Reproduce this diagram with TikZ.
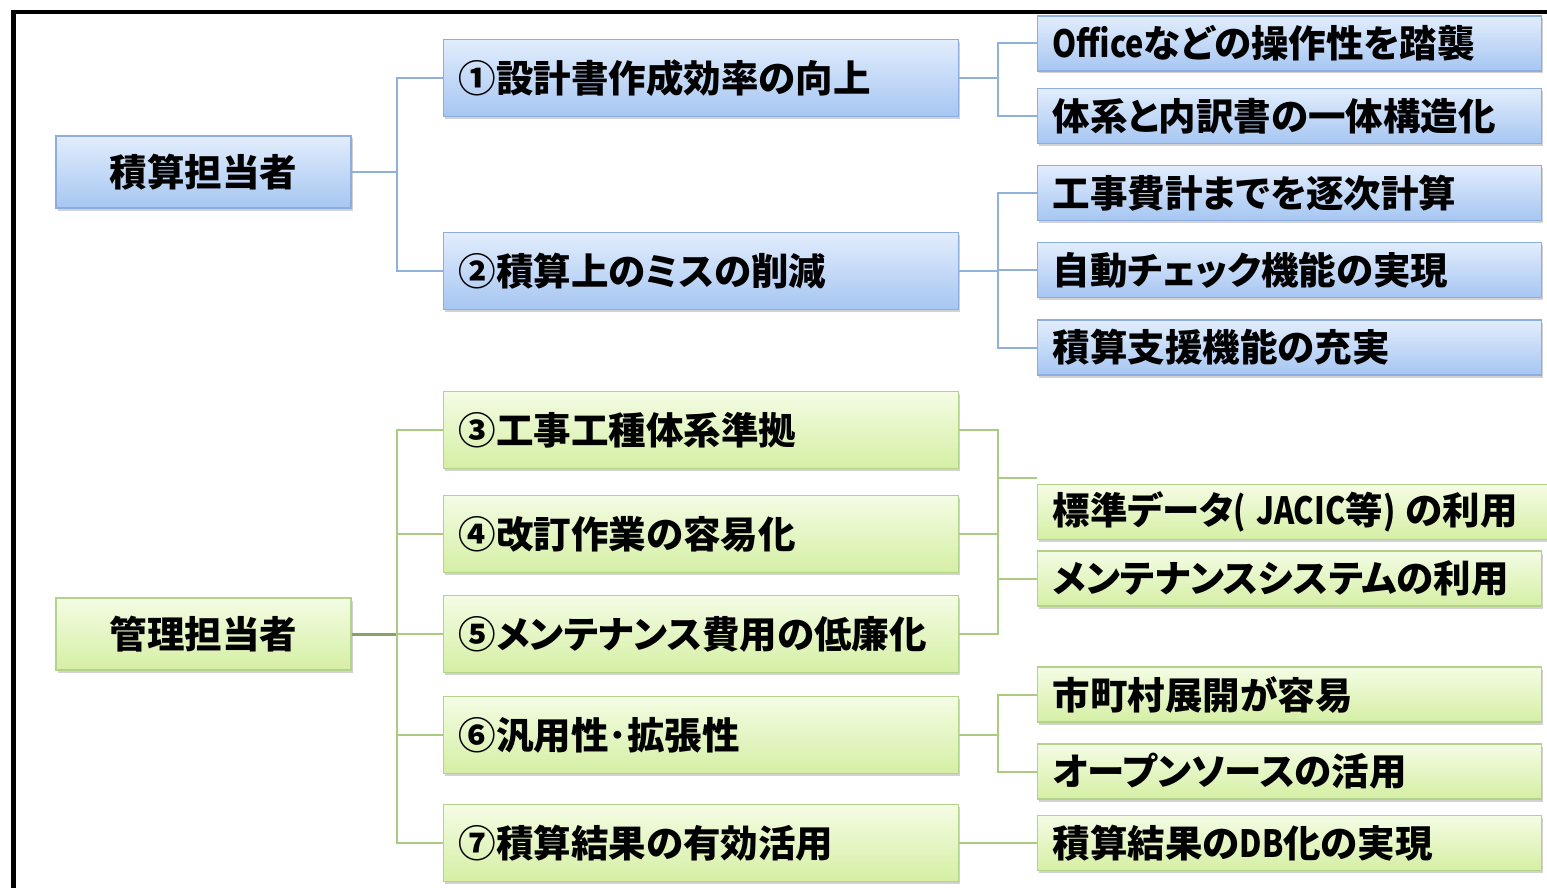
\documentclass[tikz,border=0pt]{standalone}
\usepackage{fontspec}
\usepackage{graphicx}
\setmainfont{Noto Sans CJK JP}[RawFeature=+palt]
\usetikzlibrary{shadows}
\newcommand{\narrowlat}[1]{\scalebox{0.82}[1]{#1}}
\definecolor{btop}{HTML}{E2EDFC}
\definecolor{bbot}{HTML}{A6C6F2}
\definecolor{bdraw}{HTML}{8CADDD}
\definecolor{gtop}{HTML}{F4FCE4}
\definecolor{gbot}{HTML}{D5EFA4}
\definecolor{gdraw}{HTML}{B4D38A}
\definecolor{bline}{HTML}{8FB1DA}
\definecolor{gline}{HTML}{ABCB82}
\tikzset{
  box/.style={rectangle, line width=1.2pt, font=\fontsize{37.5}{40}\selectfont\bfseries,
    drop shadow={shadow xshift=1.5pt, shadow yshift=-2.5pt, opacity=0.35}},
  bluebox/.style={box, draw=bdraw, top color=btop, bottom color=bbot},
  greenbox/.style={box, draw=gdraw, top color=gtop, bottom color=gbot},
  rootbox/.style={minimum width=295pt, minimum height=72pt, inner sep=0pt},
  midbox/.style={anchor=west, inner xsep=15pt, inner ysep=0pt, text width=485pt, align=left, minimum height=77pt},
  leafbox/.style={anchor=west, inner xsep=15pt, inner ysep=0pt, text width=474pt, align=left, minimum height=55pt},
  bconn/.style={draw=bline, line width=2pt},
  gconn/.style={draw=gline, line width=2pt},
}
\begin{document}
\begin{tikzpicture}[x=1pt, y=-1pt]
\useasboundingbox (0,0) rectangle (1547,888);
\fill[white] (0,0) rectangle (1547,888);
% frame
\draw[line width=4.5pt] (13.5,888) -- (13.5,12) -- (1547,12);

\coordinate (v1) at (397,0);
\coordinate (v2) at (998,0);

% roots
\node[bluebox, rootbox] (r1) at (203.5,172) {積算担当者};
\node[greenbox, rootbox] (r2) at (203.5,634) {管理担当者};

% level 2
\node[bluebox, midbox] (a1) at (443,78) {①設計書作成効率の向上};
\node[bluebox, midbox] (a2) at (443,271) {②積算上のミスの削減};
\node[greenbox, midbox] (a3) at (443,430) {③工事工種体系準拠};
\node[greenbox, midbox] (a4) at (443,534) {④改訂作業の容易化};
\node[greenbox, midbox] (a5) at (443,634) {⑤メンテナンス費用の低廉化};
\node[greenbox, midbox] (a6) at (443,735) {⑥汎用性･拡張性};
\node[greenbox, midbox] (a7) at (443,843) {⑦積算結果の有効活用};

% level 3
\node[bluebox, leafbox] (s1) at (1037,43.5) {\narrowlat{Office}などの操作性を踏襲};
\node[bluebox, leafbox] (s2) at (1037,116) {体系と内訳書の一体構造化};
\node[bluebox, leafbox] (s3) at (1037,193) {工事費計までを逐次計算};
\node[bluebox, leafbox] (s4) at (1037,270) {自動チェック機能の実現};
\node[bluebox, leafbox] (s5) at (1037,347.5) {積算支援機能の充実};
\node[greenbox, leafbox, text width=481pt] (s6) at (1037,512) {\mbox{標準データ\narrowlat{(~JACIC}等\narrowlat{)~}の利用}};
\node[greenbox, leafbox] (s7) at (1037,578.5) {メンテナンスシステムの利用};
\node[greenbox, leafbox] (s8) at (1037,694.5) {市町村展開が容易};
\node[greenbox, leafbox] (s9) at (1037,771.5) {オープンソースの活用};
\node[greenbox, leafbox] (s10) at (1037,843) {積算結果の\narrowlat{DB}化の実現};

% connectors, blue
\path[bconn] (r1.east) -- (r1.east -| v1);
\path[bconn] (a1.west) -- (a1.west -| v1) -- (a2.west -| v1) -- (a2.west);
\path[bconn] (a1.east) -- (a1.east -| v2);
\path[bconn] (s1.west) -- (s1.west -| v2) -- (s2.west -| v2) -- (s2.west);
\path[bconn] (a2.east) -- (a2.east -| v2);
\path[bconn] (s3.west) -- (s3.west -| v2) -- (s5.west -| v2) -- (s5.west);
\path[bconn] (s4.west) -- (s4.west -| v2);
% connectors, green
\path[gconn, line width=3pt, draw=gline!80!black] (r2.east) -- (r2.east -| v1);
\path[gconn] (a3.west) -- (a3.west -| v1) -- (a7.west -| v1) -- (a7.west);
\path[gconn] (a4.west) -- (a4.west -| v1);
\path[gconn] (a5.west) -- (a5.west -| v1);
\path[gconn] (a6.west) -- (a6.west -| v1);
\path[gconn] (a3.east) -- (a3.east -| v2) -- (a5.east -| v2) -- (a5.east);
\path[gconn] (a4.east) -- (a4.east -| v2);
\path[gconn] (a3.east -| v2) |- ([yshift=6pt]s6.north west);
\path[gconn] (a3.east -| v2) |- (s7.west);
\path[gconn] (a6.east) -- (a6.east -| v2);
\path[gconn] (s8.west) -- (s8.west -| v2) -- (s9.west -| v2) -- (s9.west);
\path[gconn] (a7.east) -- (s10.west);
\end{tikzpicture}
\end{document}
